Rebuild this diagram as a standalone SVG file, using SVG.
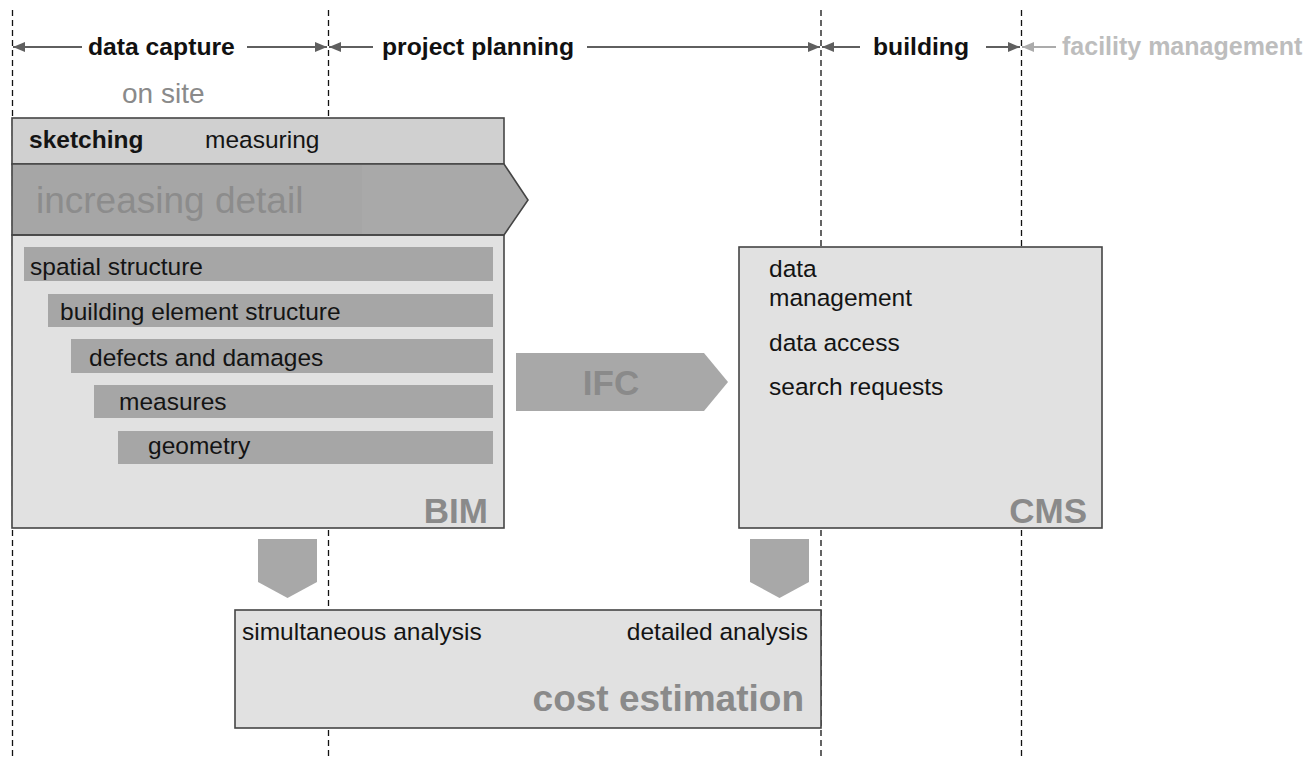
<svg xmlns="http://www.w3.org/2000/svg" width="1315" height="762" viewBox="0 0 1315 762">
  <style>
    text { font-family: "Liberation Sans", Arial, sans-serif; }
    .phase { font-size: 24.7px; font-weight: bold; fill: #111; }
    .phase-light { font-size: 25px; font-weight: bold; fill: #bdbdbd; }
    .label { font-size: 24.5px; fill: #141414; }
    .label-bold { font-size: 24.5px; font-weight: bold; fill: #141414; }
    .title { font-size: 35px; font-weight: bold; fill: #8a8a8a; }
    .title-wide { font-size: 37px; font-weight: bold; fill: #8a8a8a; }
    .guide { stroke: #111; stroke-width: 1.3; stroke-dasharray: 6 4; fill: none; }
    .frame { stroke: #454545; stroke-width: 1.6; }
    .bar { fill: #a6a6a6; }
    .conn { stroke: #5f5f5f; stroke-width: 2; fill: none; marker-end: url(#head); }
    .conn-light { stroke: #ababab; stroke-width: 2; fill: none; marker-end: url(#head-light); }
    .block-arrow { fill: #a8a8a8; }
  </style>
  <defs>
    <marker id="head" viewBox="0 0 12 10" refX="12" refY="5" markerWidth="12" markerHeight="10" markerUnits="userSpaceOnUse" orient="auto">
      <path d="M0,0 L12,5 L0,10 z" fill="#5f5f5f"/>
    </marker>
    <marker id="head-light" viewBox="0 0 12 10" refX="12" refY="5" markerWidth="12" markerHeight="10" markerUnits="userSpaceOnUse" orient="auto">
      <path d="M0,0 L12,5 L0,10 z" fill="#ababab"/>
    </marker>
  </defs>

  <rect width="1315" height="762" fill="#ffffff"/>

  <!-- phase boundaries -->
  <g id="guides">
    <line class="guide" x1="12.5" y1="10" x2="12.5" y2="760"/>
    <line class="guide" x1="328.5" y1="10" x2="328.5" y2="760"/>
    <line class="guide" x1="821" y1="10" x2="821" y2="760"/>
    <line class="guide" x1="1021.5" y1="10" x2="1021.5" y2="760"/>
  </g>

  <!-- phase span arrows -->
  <g id="connectors">
    <line class="conn" x1="82" y1="47" x2="13" y2="47"/>
    <line class="conn" x1="247" y1="47" x2="327" y2="47"/>
    <line class="conn" x1="373" y1="47" x2="329" y2="47"/>
    <line class="conn" x1="587" y1="47" x2="820" y2="47"/>
    <line class="conn" x1="860" y1="47" x2="822" y2="47"/>
    <line class="conn" x1="986" y1="47" x2="1020" y2="47"/>
    <line class="conn-light" x1="1056" y1="47" x2="1022" y2="47"/>
  </g>

  <g id="phase-labels">
    <text class="phase" x="88" y="55">data capture</text>
    <text class="phase" x="382" y="55">project planning</text>
    <text class="phase" x="873" y="55">building</text>
    <text class="phase-light" x="1062" y="55">facility management</text>
    <text x="122" y="103" font-size="28" fill="#8a8a8a">on site</text>
  </g>

  <!-- BIM block -->
  <g id="bim">
    <rect x="12" y="118" width="492" height="410" fill="#e1e1e1"/>
    <rect x="12" y="118" width="492" height="46" fill="#d0d0d0" class="frame"/>
    <polygon points="12,164 504,164 528,200 504,235 12,235" fill="#a9a9a9" class="frame"/>
    <rect x="13" y="165" width="349" height="69" fill="#a6a6a6"/>
    <text x="36" y="213" font-size="37" fill="#8c8c8c">increasing detail</text>
    <text class="label-bold" x="29" y="148">sketching</text>
    <text class="label" x="205" y="148">measuring</text>
    <rect x="12" y="235" width="492" height="293" fill="none" class="frame"/>
    <rect class="bar" x="24" y="247" width="469" height="34"/>
    <rect class="bar" x="48" y="294" width="445" height="33"/>
    <rect class="bar" x="71" y="339" width="422" height="34"/>
    <rect class="bar" x="94" y="385" width="399" height="33"/>
    <rect class="bar" x="118" y="431" width="375" height="33"/>
    <text class="label" x="30" y="275">spatial structure</text>
    <text class="label" x="60" y="320">building element structure</text>
    <text class="label" x="89" y="366">defects and damages</text>
    <text class="label" x="119" y="410">measures</text>
    <text class="label" x="148" y="454">geometry</text>
    <text class="title" x="488" y="523" text-anchor="end">BIM</text>
  </g>

  <!-- exchange format -->
  <g id="ifc">
    <polygon class="block-arrow" points="516,353 704,353 728,382 704,411 516,411"/>
    <text class="title" x="611" y="395" text-anchor="middle">IFC</text>
  </g>

  <!-- CMS block -->
  <g id="cms">
    <rect x="739" y="247" width="363" height="281" fill="#e1e1e1" class="frame"/>
    <text class="label" x="769" y="277">data</text>
    <text class="label" x="769" y="306">management</text>
    <text class="label" x="769" y="351">data access</text>
    <text class="label" x="769" y="395">search requests</text>
    <text class="title" x="1087" y="523" text-anchor="end">CMS</text>
  </g>

  <!-- hand-over arrows into cost estimation -->
  <g id="to-cost">
    <polygon class="block-arrow" points="258,539 317,539 317,582 287.5,598 258,582"/>
    <polygon class="block-arrow" points="750,539 809,539 809,582 779.5,598 750,582"/>
  </g>

  <!-- cost estimation block -->
  <g id="cost">
    <rect x="235" y="610" width="586" height="118" fill="#e1e1e1" class="frame"/>
    <text class="label" x="242" y="640">simultaneous analysis</text>
    <text class="label" x="808" y="640" text-anchor="end">detailed analysis</text>
    <text class="title-wide" x="804" y="711" text-anchor="end">cost estimation</text>
  </g>
</svg>
